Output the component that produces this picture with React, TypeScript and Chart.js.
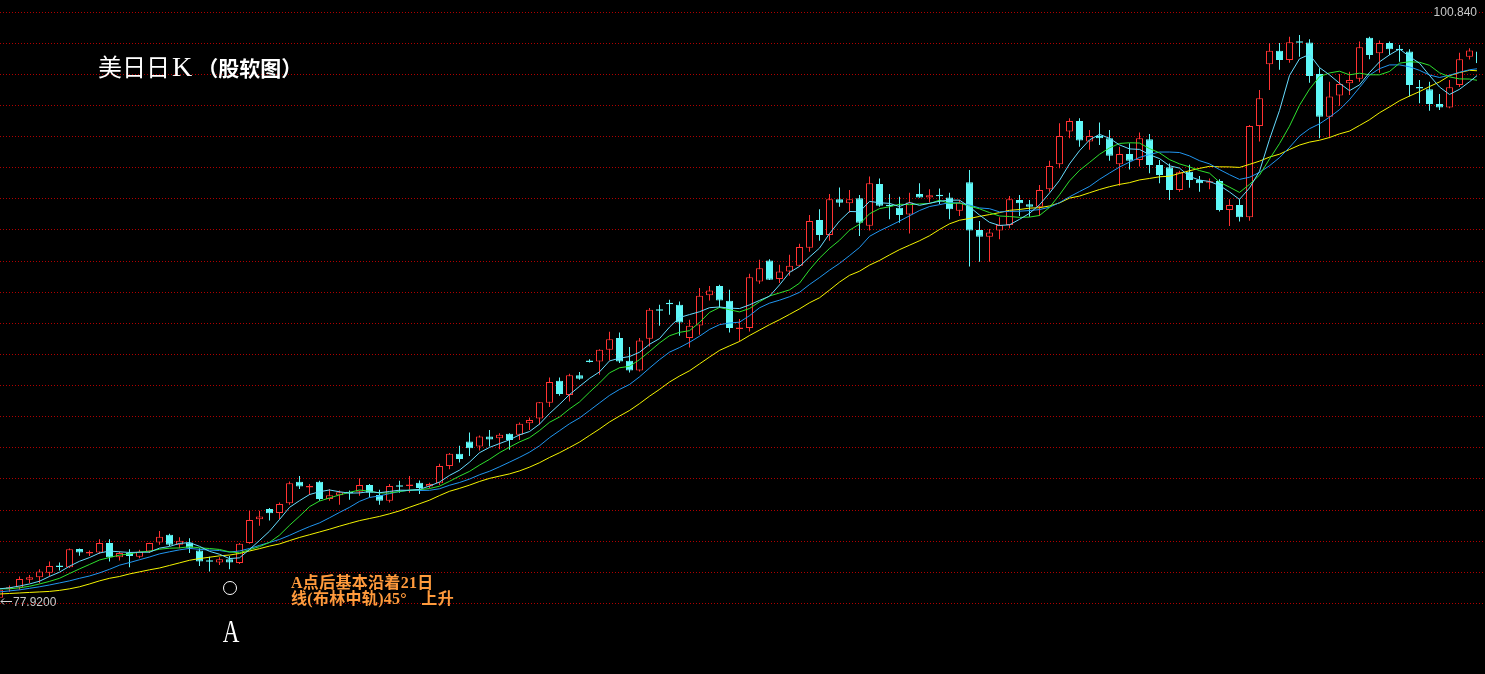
import React, { useEffect, useRef } from "react";
import { Chart, registerables } from "chart.js";

Chart.register(...registerables);

// ---- Data (index 0 is the bar cut by the left edge) ----
const opens = [
  78.06, 78.41, 78.46, 78.76, 78.86, 79.04, 79.29, 79.25, 79.96, 79.78,
  79.82, 80.19, 79.64, 79.80, 79.66, 79.86, 80.21, 80.51, 80.12, 80.21,
  79.90, 79.48, 79.43, 79.56, 79.41, 80.19, 81.12, 81.51, 81.36, 81.74,
  82.57, 82.35, 82.57, 81.90, 82.05, 82.15, 82.19, 82.45, 82.06, 81.84,
  82.40, 82.41, 82.54, 82.39, 82.52, 83.19, 83.66, 84.14, 83.94, 84.33,
  84.27, 84.44, 84.40, 84.85, 85.03, 85.65, 86.50, 85.95, 86.72, 87.25,
  87.25, 87.71, 88.16, 87.28, 86.90, 88.13, 89.24, 89.50, 89.46, 88.16,
  88.65, 89.83, 90.19, 89.61, 88.51, 88.55, 90.36, 91.18, 90.46, 90.75,
  90.97, 91.67, 92.75, 92.17, 93.56, 93.40, 93.60, 92.53, 94.15, 93.31,
  93.23, 92.97, 93.76, 93.63, 93.70, 93.63, 93.11, 94.22, 92.36, 92.10,
  92.34, 92.56, 93.53, 93.36, 93.27, 93.95, 94.92, 96.19, 96.60, 95.80,
  96.02, 95.93, 94.92, 95.32, 95.09, 95.89, 94.89, 94.80, 93.92, 94.63,
  94.31, 94.20, 94.27, 93.14, 93.34, 92.86, 96.41, 98.81, 99.33, 98.97,
  99.66, 99.65, 98.43, 96.77, 97.59, 98.07, 98.24, 99.84, 99.24, 99.63,
  99.37, 99.30, 97.89, 97.84, 97.26, 97.13, 98.00, 99.10, 99.30,
];
const highs = [
  78.45, 78.54, 78.89, 78.95, 79.17, 79.47, 79.43, 79.98, 79.98, 79.90,
  80.34, 80.34, 79.86, 79.95, 79.93, 80.20, 80.66, 80.55, 80.42, 80.38,
  79.99, 79.66, 79.64, 79.69, 80.19, 81.45, 81.45, 81.55, 81.77, 82.58,
  82.80, 82.49, 82.61, 82.29, 82.23, 82.23, 82.71, 82.49, 82.26, 82.49,
  82.61, 82.80, 82.62, 82.54, 83.27, 83.69, 83.97, 84.49, 84.37, 84.59,
  84.46, 84.46, 84.88, 85.07, 85.68, 86.63, 86.63, 86.77, 86.84, 87.34,
  87.73, 88.41, 88.38, 87.81, 88.16, 89.33, 89.46, 89.65, 89.58, 88.87,
  90.11, 90.19, 90.23, 90.04, 88.90, 90.66, 91.21, 91.23, 91.01, 91.40,
  91.83, 92.95, 93.17, 93.76, 94.02, 93.92, 93.72, 94.44, 94.37, 93.76,
  93.66, 93.81, 94.18, 93.95, 93.98, 93.81, 93.53, 94.70, 92.71, 92.40,
  92.86, 93.69, 93.72, 93.53, 94.11, 95.06, 96.51, 96.71, 96.71, 96.25,
  96.54, 96.25, 95.60, 95.74, 96.15, 96.10, 95.09, 94.95, 94.67, 94.90,
  94.46, 94.37, 94.34, 93.56, 93.56, 96.45, 97.81, 99.63, 99.63, 99.88,
  99.95, 99.78, 98.65, 98.13, 98.43, 98.52, 99.69, 99.88, 99.73, 99.69,
  99.56, 99.39, 98.20, 98.13, 97.65, 98.20, 99.26, 99.43, 99.35,
];
const lows = [
  77.92, 78.30, 78.37, 78.63, 78.63, 78.89, 79.12, 79.22, 79.70, 79.69,
  79.77, 79.47, 79.51, 79.25, 79.60, 79.80, 80.12, 80.08, 79.99, 79.80,
  79.30, 79.08, 79.34, 79.17, 79.38, 80.16, 80.86, 81.07, 81.12, 81.68,
  82.29, 82.06, 81.84, 81.84, 81.68, 81.87, 82.03, 81.97, 81.68, 81.77,
  82.15, 82.15, 82.10, 82.33, 82.45, 83.06, 83.32, 83.58, 83.79, 83.94,
  83.84, 83.82, 84.20, 84.59, 84.79, 85.48, 85.92, 85.69, 86.54, 87.21,
  86.73, 87.29, 87.19, 86.82, 86.86, 87.83, 88.64, 89.07, 88.25, 87.79,
  88.29, 89.62, 89.33, 88.38, 88.03, 88.42, 90.27, 90.42, 90.30, 90.58,
  90.95, 91.52, 91.95, 91.95, 93.27, 93.04, 92.13, 92.34, 93.27, 92.78,
  92.65, 92.23, 93.62, 93.43, 93.37, 92.78, 92.91, 90.94, 91.13, 91.13,
  92.00, 92.43, 92.91, 92.88, 92.91, 93.85, 94.76, 95.93, 95.60, 95.48,
  95.67, 95.06, 94.08, 94.72, 94.83, 94.57, 94.18, 93.53, 93.85, 94.01,
  93.85, 93.95, 93.08, 92.52, 92.69, 92.72, 95.80, 97.81, 98.59, 98.87,
  99.10, 98.09, 95.93, 95.93, 97.19, 97.61, 98.13, 99.00, 98.48, 99.17,
  98.91, 97.55, 97.29, 97.00, 97.03, 97.10, 97.92, 98.99, 98.70,
];
const closes = [
  78.37, 78.43, 78.79, 78.86, 79.08, 79.30, 79.26, 79.95, 79.82, 79.80,
  80.19, 79.64, 79.80, 79.69, 79.85, 80.19, 80.44, 80.12, 80.28, 80.01,
  79.47, 79.46, 79.56, 79.43, 80.16, 81.09, 81.22, 81.35, 81.71, 82.52,
  82.39, 82.41, 81.90, 82.05, 82.17, 82.13, 82.45, 82.15, 81.84, 82.41,
  82.38, 82.43, 82.33, 82.49, 83.19, 83.66, 83.46, 83.88, 84.33, 84.22,
  84.40, 84.20, 84.83, 84.98, 85.67, 86.45, 85.99, 86.72, 86.58, 87.23,
  87.71, 88.12, 87.25, 86.90, 88.07, 89.26, 89.22, 89.48, 88.77, 88.64,
  89.81, 90.01, 89.62, 88.55, 88.55, 90.53, 90.88, 90.43, 90.75, 90.97,
  91.70, 92.71, 92.17, 93.56, 93.42, 93.56, 92.65, 94.18, 93.31, 93.29,
  92.95, 93.43, 93.63, 93.71, 93.68, 93.17, 93.43, 92.34, 92.10, 92.27,
  92.56, 93.56, 93.40, 93.27, 93.92, 94.85, 96.02, 96.60, 95.84, 96.02,
  95.93, 95.25, 95.32, 95.06, 95.93, 94.89, 94.50, 93.92, 94.61, 94.31,
  94.18, 94.24, 93.14, 93.34, 92.86, 96.41, 97.49, 99.33, 98.97, 99.66,
  99.64, 98.35, 96.77, 97.55, 98.04, 98.20, 99.47, 99.17, 99.63, 99.39,
  99.35, 98.00, 97.87, 97.26, 97.13, 97.91, 99.00, 99.34, 98.85,
];

// Moving-average periods (5 / 8 / 13 / 21 day lines) and the values read
// off the picture for the first bars, before a full window exists.
const maPeriods = [5, 8, 13, 21];
const ma5Head = [78.41, 78.45, 78.52, 78.60];
const ma8Head = [78.41, 78.41, 78.45, 78.51, 78.60, 78.70, 78.82];
const ma13Head = [78.29, 78.33, 78.37, 78.43, 78.49, 78.56, 78.64, 78.72, 78.82, 78.91, 79.03, 79.17];
const ma21Head = [
  78.21, 78.23, 78.25, 78.27, 78.29, 78.31, 78.35, 78.41, 78.49, 78.60,
  78.72, 78.82, 78.89, 78.99, 79.07, 79.15, 79.22, 79.32, 79.42, 79.52,
];

const axisMin = 77.84;
const axisMax = 100.84;
const highLabel = "100.840";
const lowLabel = "77.9200";
const titleMain = "美日日K";
const titleSub = "（股软图）";
const noteLines = ["A点后基本沿着21日", "线(布林中轨)45° 上升"];
const pointLabel = "A";

const UP = "#ff3232";
const DOWN = "#5ff7f7";

function movingAverage(values: number[], period: number, head: number[]) {
  return values.map((_, i) => {
    if (i < period - 1) return head[i];
    let s = 0;
    for (let j = i - period + 1; j <= i; j++) s += values[j];
    return s / period;
  });
}

export default function App() {
  const canvasRef = useRef<HTMLCanvasElement | null>(null);

  useEffect(() => {
    const canvas = canvasRef.current;
    if (!canvas) return;
    const n = closes.length;
    const idx = Array.from({ length: n }, (_, i) => i);
    const isUp = idx.map((i) => closes[i] >= opens[i]);
    const clip = { left: 0, top: 12, right: -8, bottom: 70 };

    const ma = [
      movingAverage(closes, maPeriods[0], ma5Head),
      movingAverage(closes, maPeriods[1], ma8Head),
      movingAverage(closes, maPeriods[2], ma13Head),
      movingAverage(closes, maPeriods[3], ma21Head),
    ];
    const maColors = ["#66dcff", "#2ee02e", "#2196f0", "#f4f400"];

    const lineSets = ma.map((vals, j) => ({
      type: "line" as const,
      data: idx.map((i) => ({ x: i, y: vals[i] })),
      borderColor: maColors[j],
      borderWidth: 1,
      pointRadius: 0,
      tension: 0,
      fill: false,
      order: j === 0 ? 0 : 1,
      clip,
    }));

    const gridValues = Array.from({ length: 20 }, (_, i) => axisMin + (i * (axisMax - axisMin)) / 19);

    const chart = new Chart(canvas, {
      type: "bar",
      data: {
        datasets: [
          ...lineSets,
          {
            type: "bar",
            data: idx.map((i) => ({ x: i, y: [opens[i], closes[i]] })),
            backgroundColor: idx.map((i) => (isUp[i] ? "#000000" : DOWN)),
            borderColor: idx.map((i) => (isUp[i] ? UP : DOWN)),
            borderWidth: 1,
            borderSkipped: false,
            barThickness: 7,
            maxBarThickness: 7,
            minBarLength: 1.5,
            grouped: false,
            inflateAmount: 0,
            order: 3,
            clip,
          } as any,
          {
            type: "bar",
            data: idx.map((i) => ({ x: i, y: [lows[i], highs[i]] })),
            backgroundColor: idx.map((i) => (isUp[i] ? UP : DOWN)),
            borderWidth: 0,
            barThickness: 1,
            maxBarThickness: 1,
            grouped: false,
            inflateAmount: 0,
            order: 4,
            clip,
          } as any,
        ],
      },
      options: {
        responsive: false,
        animation: false,
        devicePixelRatio: 1,
        events: [],
        layout: { padding: { left: 0, right: 0, top: 12, bottom: 70.5 } },
        plugins: { legend: { display: false }, tooltip: { enabled: false } },
        scales: {
          x: { type: "linear", min: 0.05, max: 148.55, display: false, offset: false },
          y: {
            type: "linear",
            min: axisMin,
            max: axisMax,
            display: true,
            position: "left",
            afterBuildTicks: (axis: any) => {
              axis.ticks = gridValues.map((value) => ({ value }));
            },
            afterFit: (axis: any) => {
              axis.width = 0;
            },
            ticks: { display: false },
            border: { display: false, dash: [1, 2] },
            grid: { color: "#b00000", lineWidth: 1, drawTicks: false },
          },
        },
      } as any,
    });
    return () => chart.destroy();
  }, []);

  const cjk = '"Liberation Serif", "Noto Sans CJK SC", serif';
  const sansCjk = '"Noto Sans CJK SC", sans-serif';
  return (
    <div
      style={{
        position: "fixed",
        left: 0,
        top: 0,
        width: 1485,
        height: 674,
        background: "#000",
        overflow: "hidden",
      }}
    >
      <canvas ref={canvasRef} width={1485} height={674} style={{ display: "block" }} />
      <div
        style={{
          position: "absolute",
          left: 98,
          top: 54,
          lineHeight: "24px",
          color: "#fff",
          fontFamily: sansCjk,
          whiteSpace: "nowrap",
        }}
      >
        <span style={{ fontSize: 24 }}>{titleMain.slice(0, 3)}</span>
        <span style={{ fontSize: 28, fontFamily: '"Liberation Serif", serif', marginLeft: 2 }}>
          {titleMain.slice(3)}
        </span>
        <span style={{ fontSize: 21, fontWeight: "bold", marginLeft: 5 }}>{titleSub}</span>
      </div>
      <div
        style={{
          position: "absolute",
          right: 8,
          top: 5,
          lineHeight: "14px",
          fontSize: 12,
          fontFamily: '"Liberation Sans", Arial, sans-serif',
          color: "#c8c8c8",
          background: "#000",
          paddingLeft: 1,
        }}
      >
        {highLabel}
      </div>
      <svg style={{ position: "absolute", left: 0, top: 596 }} width={13} height={11}>
        <path d="M1 5.5 H12 M1 5.5 L4 2.5 M1 5.5 L4 8.5" stroke="#d8d8d8" strokeWidth={1} fill="none" />
      </svg>
      <div
        style={{
          position: "absolute",
          left: 13,
          top: 594.5,
          lineHeight: "14px",
          fontSize: 12,
          fontFamily: '"Liberation Sans", Arial, sans-serif',
          color: "#c8c8c8",
        }}
      >
        {lowLabel}
      </div>
      <div
        style={{
          position: "absolute",
          left: 223,
          top: 581,
          width: 14,
          height: 14,
          boxSizing: "border-box",
          border: "1px solid #fff",
          borderRadius: "50%",
        }}
      />
      <div
        style={{
          position: "absolute",
          left: 291,
          top: 575,
          fontSize: 16,
          lineHeight: "16px",
          fontWeight: "bold",
          color: "#ff9a3c",
          fontFamily: cjk,
          whiteSpace: "nowrap",
          letterSpacing: 0.3,
        }}
      >
        <div>{noteLines[0]}</div>
        <div style={{ wordSpacing: 10 }}>{noteLines[1]}</div>
      </div>
      <div
        style={{
          position: "absolute",
          left: 211,
          top: 615,
          width: 40,
          textAlign: "center",
          fontSize: 32,
          lineHeight: "32px",
          color: "#fff",
          fontFamily: '"Liberation Serif", "DejaVu Serif", serif',
          transform: "scaleX(0.72)",
        }}
      >
        {pointLabel}
      </div>
    </div>
  );
}
